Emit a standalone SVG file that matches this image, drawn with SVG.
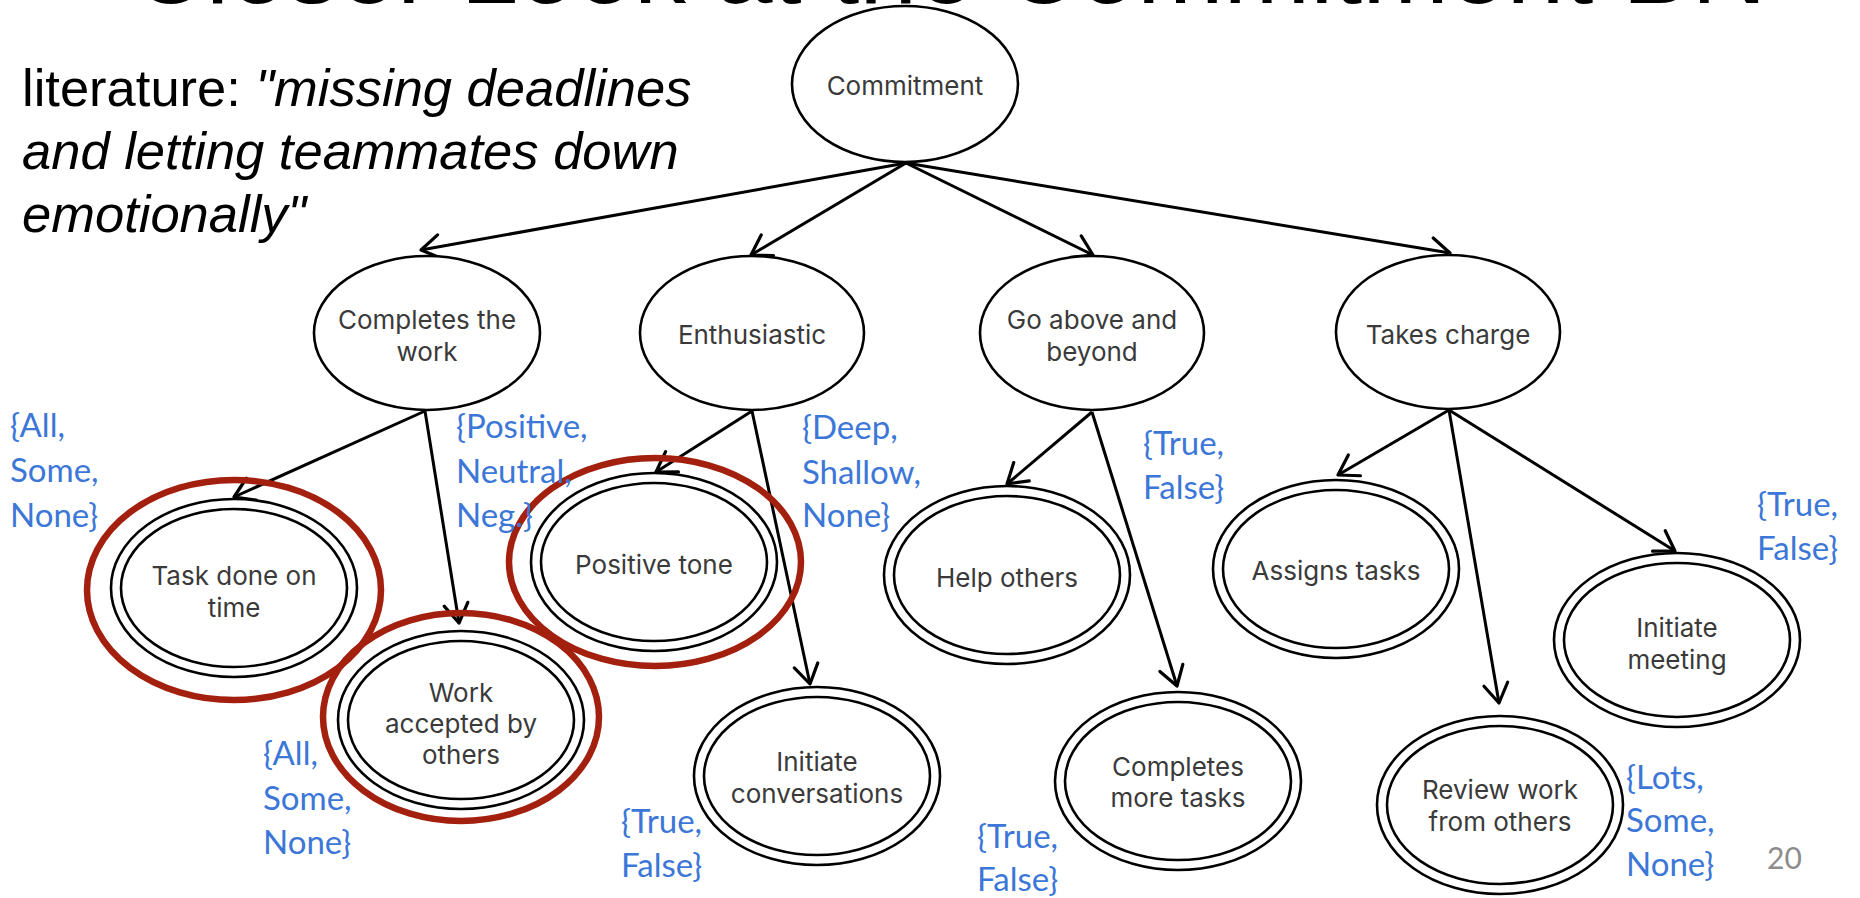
<svg xmlns="http://www.w3.org/2000/svg" width="1860" height="898" viewBox="0 0 1860 898">
  <style>
    .title { font-family: "Liberation Sans", Arial, sans-serif; font-size: 104px; fill: #000; }
    .quote { font-family: "Liberation Sans", Arial, sans-serif; font-size: 52.5px; fill: #000; }
    .quote .it { font-style: italic; }
    .node ellipse { fill: #fff; stroke: #000; stroke-width: 2.6; }
    .node .ring { fill: none; }
    .node text { font-family: Inter, "Noto Sans", sans-serif; font-size: 26px; fill: #3a3a3a; text-anchor: middle; }
    .hl { fill: none; stroke: #a31f0e; stroke-width: 6.5; }
    .edge { fill: none; stroke: #000; stroke-width: 3; marker-end: url(#arrow); }
    .states { font-family: Lato, "Open Sans", sans-serif; font-size: 33px; fill: #3c77d8; }
    .pageno { font-family: Lato, "Open Sans", sans-serif; font-size: 30px; fill: #8c8c8c; }
  </style>
  <defs>
    <marker id="arrow" viewBox="-24 -15 28 30" refX="0" refY="0" markerWidth="28" markerHeight="30" markerUnits="userSpaceOnUse" orient="auto">
      <path d="M-19,-12 L0,0 L-19,12" fill="none" stroke="#000" stroke-width="3.2" stroke-linejoin="round" stroke-linecap="round"/>
    </marker>
  </defs>
  <rect width="1860" height="898" fill="#fff"/>

  <!-- slide heading, mostly above the top edge -->
  <text class="title" x="131" y="3">Closer Look at the Commitment BN</text>

  <!-- quotation from the literature -->
  <text class="quote" x="22" y="106">literature: <tspan class="it">"missing deadlines</tspan></text>
  <text class="quote" x="22" y="169"><tspan class="it">and letting teammates down</tspan></text>
  <text class="quote" x="22" y="232"><tspan class="it">emotionally"</tspan></text>

  <!-- edges -->
  <g id="edges">
    <path class="edge" d="M906,163 L421,250"/>
    <path class="edge" d="M906,163 L751,255"/>
    <path class="edge" d="M906,163 L1093,255"/>
    <path class="edge" d="M906,163 L1450,253" stroke-width="3.6"/>
    <path class="edge" d="M425,411 L234,497"/>
    <path class="edge" d="M425,411 L459,623"/>
    <path class="edge" d="M752,411 L656,472"/>
    <path class="edge" d="M752,411 L810,684"/>
    <path class="edge" d="M1092,412 L1007,484"/>
    <path class="edge" d="M1092,412 L1177,686"/>
    <path class="edge" d="M1449,410 L1338,475"/>
    <path class="edge" d="M1449,410 L1499,703"/>
    <path class="edge" d="M1449,410 L1675,551"/>
  </g>

  <!-- root -->
  <g id="commitment" class="node">
    <ellipse cx="905" cy="84" rx="113" ry="78"/>
    <text x="905" y="95">Commitment</text>
  </g>

  <!-- second level -->
  <g id="completes-the-work" class="node">
    <ellipse cx="427" cy="333" rx="113" ry="77"/>
    <text x="427" y="329">Completes the</text>
    <text x="427" y="361">work</text>
  </g>
  <g id="enthusiastic" class="node">
    <ellipse cx="752" cy="333" rx="112" ry="77"/>
    <text x="752" y="344">Enthusiastic</text>
  </g>
  <g id="go-above-and-beyond" class="node">
    <ellipse cx="1092" cy="333" rx="112" ry="77"/>
    <text x="1092" y="329">Go above and</text>
    <text x="1092" y="361">beyond</text>
  </g>
  <g id="takes-charge" class="node">
    <ellipse cx="1448" cy="332" rx="112" ry="77"/>
    <text x="1448" y="344">Takes charge</text>
  </g>

  <!-- observed leaves (double outline) -->
  <g id="task-done-on-time" class="node">
    <ellipse cx="234" cy="588" rx="123" ry="89"/>
    <ellipse class="ring" cx="234" cy="588" rx="113" ry="79"/>
    <text x="234" y="585">Task done on</text>
    <text x="234" y="617">time</text>
  </g>
  <g id="work-accepted-by-others" class="node">
    <ellipse cx="461" cy="720" rx="123" ry="89"/>
    <ellipse class="ring" cx="461" cy="720" rx="113" ry="79"/>
    <text x="461" y="702">Work</text>
    <text x="461" y="733">accepted by</text>
    <text x="461" y="764">others</text>
  </g>
  <g id="positive-tone" class="node">
    <ellipse cx="654" cy="562" rx="123" ry="89"/>
    <ellipse class="ring" cx="654" cy="562" rx="113" ry="79"/>
    <text x="654" y="574">Positive tone</text>
  </g>
  <g id="initiate-conversations" class="node">
    <ellipse cx="817" cy="776" rx="123" ry="89"/>
    <ellipse class="ring" cx="817" cy="776" rx="113" ry="79"/>
    <text x="817" y="771">Initiate</text>
    <text x="817" y="803">conversations</text>
  </g>
  <g id="help-others" class="node">
    <ellipse cx="1007" cy="575" rx="123" ry="89"/>
    <ellipse class="ring" cx="1007" cy="575" rx="113" ry="79"/>
    <text x="1007" y="587">Help others</text>
  </g>
  <g id="completes-more-tasks" class="node">
    <ellipse cx="1178" cy="781" rx="123" ry="89"/>
    <ellipse class="ring" cx="1178" cy="781" rx="113" ry="79"/>
    <text x="1178" y="776">Completes</text>
    <text x="1178" y="807">more tasks</text>
  </g>
  <g id="assigns-tasks" class="node">
    <ellipse cx="1336" cy="569" rx="123" ry="89"/>
    <ellipse class="ring" cx="1336" cy="569" rx="113" ry="79"/>
    <text x="1336" y="580">Assigns tasks</text>
  </g>
  <g id="review-work-from-others" class="node">
    <ellipse cx="1500" cy="805" rx="123" ry="89"/>
    <ellipse class="ring" cx="1500" cy="805" rx="113" ry="79"/>
    <text x="1500" y="799">Review work</text>
    <text x="1500" y="831">from others</text>
  </g>
  <g id="initiate-meeting" class="node">
    <ellipse cx="1677" cy="640" rx="123" ry="87"/>
    <ellipse class="ring" cx="1677" cy="640" rx="113" ry="77"/>
    <text x="1677" y="637">Initiate</text>
    <text x="1677" y="669">meeting</text>
  </g>

  <!-- highlight rings -->
  <g id="highlights">
    <ellipse class="hl" cx="234" cy="590" rx="147" ry="110"/>
    <ellipse class="hl" cx="461" cy="717" rx="138" ry="104"/>
    <ellipse class="hl" cx="655" cy="562" rx="146" ry="104"/>
  </g>

  <!-- state sets -->
  <g id="state-labels" class="states">
    <text x="10" y="437">{All,</text>
    <text x="10" y="482">Some,</text>
    <text x="10" y="527">None}</text>

    <text x="456" y="438">{Positive,</text>
    <text x="456" y="483">Neutral,</text>
    <text x="456" y="527">Neg.}</text>

    <text x="263" y="765">{All,</text>
    <text x="263" y="810">Some,</text>
    <text x="263" y="854">None}</text>

    <text x="802" y="439">{Deep,</text>
    <text x="802" y="484">Shallow,</text>
    <text x="802" y="527">None}</text>

    <text x="621" y="833">{True,</text>
    <text x="621" y="877">False}</text>

    <text x="1143" y="455">{True,</text>
    <text x="1143" y="499">False}</text>

    <text x="977" y="848">{True,</text>
    <text x="977" y="891">False}</text>

    <text x="1757" y="516">{True,</text>
    <text x="1757" y="560">False}</text>

    <text x="1626" y="789">{Lots,</text>
    <text x="1626" y="832">Some,</text>
    <text x="1626" y="876">None}</text>
  </g>

  <text class="pageno" x="1767" y="869">20</text>
</svg>
